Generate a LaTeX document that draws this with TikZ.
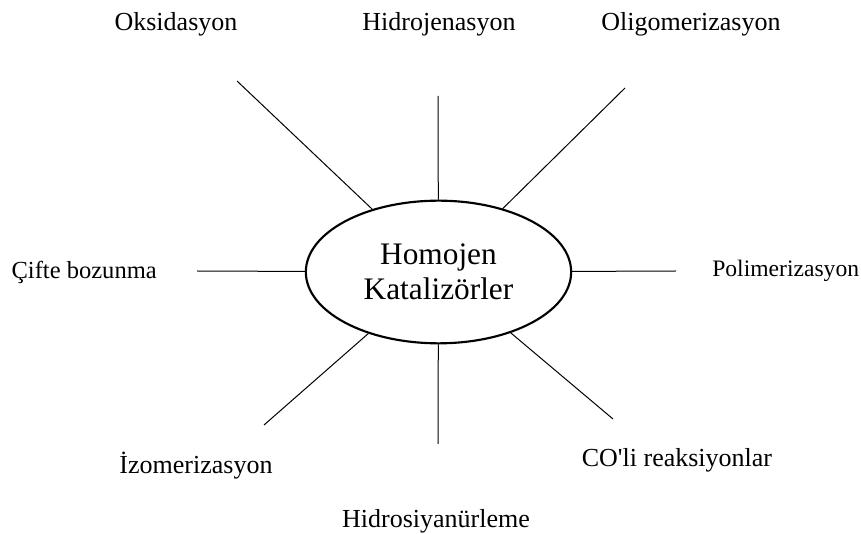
\documentclass[tikz,border=0pt]{standalone}
\usepackage{fontspec}
\setmainfont{Liberation Serif}[Ligatures=TeXOff]
\usetikzlibrary{shapes.geometric}
\tikzset{kat/.style={ellipse, draw=black, line width=1.6pt, minimum width=199pt, minimum height=107pt, inner sep=0pt, align=center, font=\fontsize{23.5}{26}\selectfont},
spoke/.style={draw=black, line width=0.75pt},
lbl/.style={inner sep=0pt, font=\fontsize{19.5}{22}\selectfont}}

\begin{document}
\begin{tikzpicture}[x=0.75pt,y=-0.75pt]
\useasboundingbox (0,0) rectangle (861,534);
% center
\node[kat] (kat) at (438.5,272) {Homojen\\Katalizörler};

% free ends of the spokes
\coordinate (oks) at (237,81);
\coordinate (hid) at (438,96);
\coordinate (oli) at (625,88);
\coordinate (cif) at (197,271);
\coordinate (pol) at (676,271);
\coordinate (izo) at (264,425);
\coordinate (hsy) at (438,444);
\coordinate (col) at (613,419);

\foreach \c in {oks,hid,oli,cif,pol,izo,hsy,col}
     \draw[spoke] (\c) -- (kat);

%labels
\node[lbl] (oksl) at (176,24) {Oksidasyon};
\node[lbl] (hidl) at (439,24) {Hidrojenasyon};
\node[lbl] (olil) at (691,24) {Oligomerizasyon};
\node[lbl, anchor=east, font=\fontsize{18.4}{21}\selectfont] (cifl) at (157,272) {Çifte bozunma};
\node[lbl, anchor=west, font=\fontsize{17.7}{20}\selectfont] (poll) at (712,271) {Polimerizasyon};
\node[lbl] (izol) at (196,466) {İzomerizasyon};
\node[lbl] (hsyl) at (436,521) {Hidrosiyanürleme};
\node[lbl] (coll) at (677,460) {CO'li reaksiyonlar};

\end{tikzpicture}
\end{document}
